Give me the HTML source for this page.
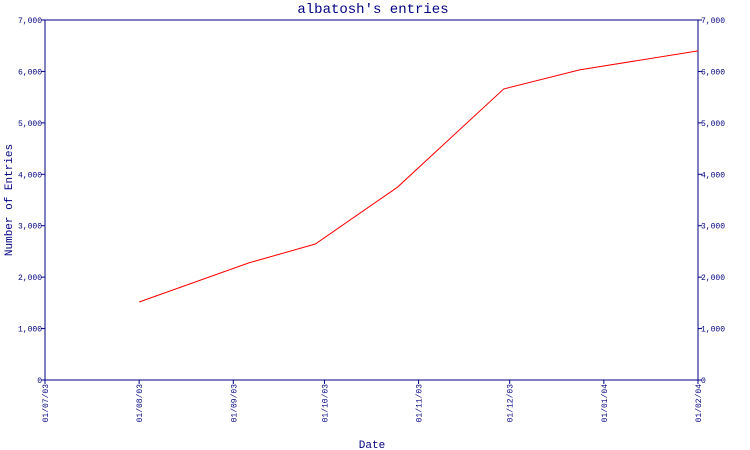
<!DOCTYPE html>
<html><head><meta charset="utf-8"><style>
body{margin:0;background:#fff;}
svg{display:block;font-family:"Liberation Mono",monospace;}
</style></head><body>
<svg id="chart" width="750" height="450" viewBox="0 0 750 450" xmlns="http://www.w3.org/2000/svg">
<text x="373" y="13" text-anchor="middle" font-size="14" fill="#000080">albatosh's entries</text>
<text transform="translate(12,200) rotate(-90)" text-anchor="middle" font-size="11" fill="#000080">Number of Entries</text>
<text x="372" y="448" text-anchor="middle" font-size="11" fill="#000080">Date</text>
<rect x="45" y="20" width="653" height="360" fill="none" stroke="#000080" stroke-width="1"/>
<g id="axes"></g>
<polyline id="series" fill="none" stroke="#ff0000" stroke-width="1"/>
</svg>
<script>
const xTickDays=[0,31,62,92,123,153,184,215];
const xTickLabels=["01/07/03","01/08/03","01/09/03","01/10/03","01/11/03","01/12/03","01/01/04","01/02/04"];
const yTicks=[0,1000,2000,3000,4000,5000,6000,7000];
const yTickLabels=["0","1,000","2,000","3,000","4,000","5,000","6,000","7,000"];
const pointDays=[31,67,89,116,151,176,215];
const pointValues=[1517,2275,2644,3747,5658,6030,6400];
const L=45,R=698,T=20,B=380;
const xs=d=>L+(d-0)/(215-0)*(R-L);
const ys=v=>B-v/7000*(B-T);
const NS="http://www.w3.org/2000/svg";
const g=document.getElementById('axes');
yTicks.forEach((v,i)=>{
  const y=ys(v);
  [[L-4,L],[R,R+4]].forEach(([a,b],k)=>{
    const l=document.createElementNS(NS,'line');
    
    
    l.setAttribute('x1',a);l.setAttribute('x2',b);l.setAttribute('y1',y);l.setAttribute('y2',y);
    l.setAttribute('stroke','#000080');g.appendChild(l);
    const t=document.createElementNS(NS,'text');
    
    
    t.setAttribute('x',k?R+3:L-3);t.setAttribute('y',y+3);
    t.setAttribute('text-anchor',k?'start':'end');
    t.setAttribute('font-size','8');t.setAttribute('fill','#000080');
    t.textContent=yTickLabels[i];g.appendChild(t);
  });
});
xTickDays.forEach((d,i)=>{
  const x=xs(d);
  const l=document.createElementNS(NS,'line');
  
  
  l.setAttribute('x1',x);l.setAttribute('x2',x);l.setAttribute('y1',B);l.setAttribute('y2',B+4);
  l.setAttribute('stroke','#000080');g.appendChild(l);
  const t=document.createElementNS(NS,'text');
  
  
  t.setAttribute('transform','translate('+(x+3)+','+(B+4)+') rotate(-90)');
  t.setAttribute('text-anchor','end');
  t.setAttribute('font-size','8');t.setAttribute('fill','#000080');
  t.textContent=xTickLabels[i];g.appendChild(t);
});
document.getElementById('series').setAttribute('points',pointDays.map((d,i)=>xs(d)+','+ys(pointValues[i])).join(' '));
</script>
</body></html>
